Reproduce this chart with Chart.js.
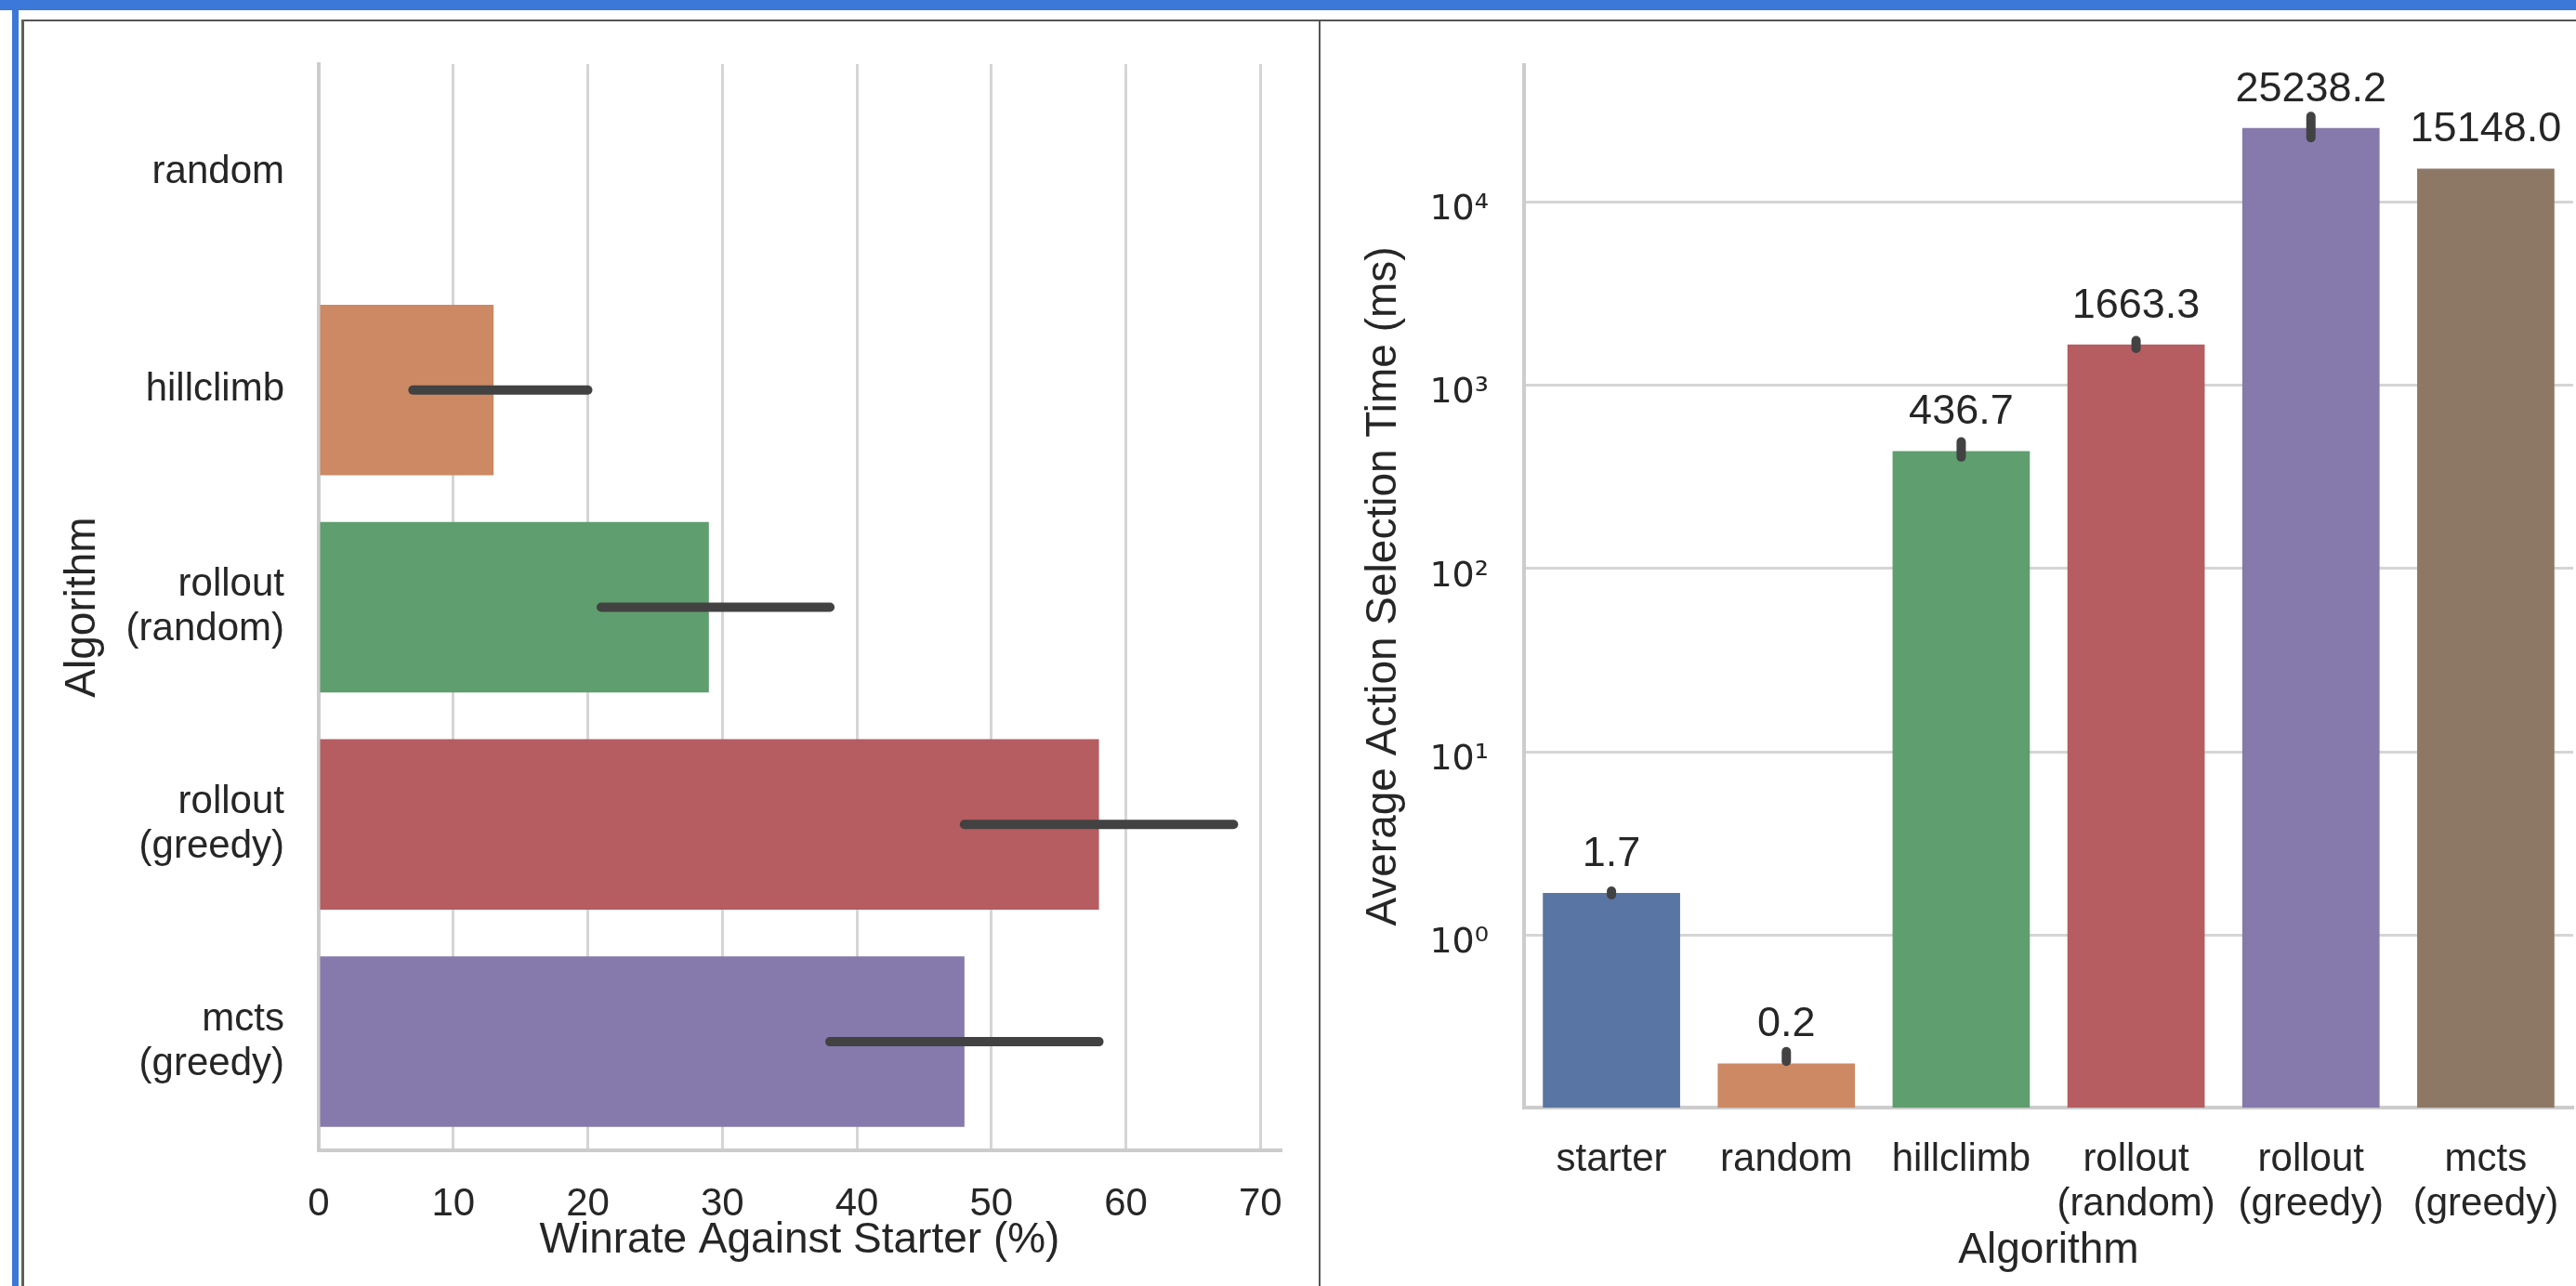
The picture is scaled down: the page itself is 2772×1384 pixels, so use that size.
<!DOCTYPE html>
<html>
<head>
<meta charset="utf-8">
<script src="https://cdn.jsdelivr.net/npm/chart.js@4.4.1/dist/chart.umd.min.js"></script>
<style>
  html, body { margin: 0; padding: 0; background: #fff; }
  body { width: 2772px; height: 1384px; position: relative; overflow: hidden; }
  .band { position: absolute; background: #3c78d8; }
  .rule { position: absolute; background: #555; }
  canvas { position: absolute; }
  #winrate { left: 26px; top: 24px; }
  #timing { left: 1422px; top: 24px; }
</style>
</head>
<body>
<div class="band" style="left:0;top:0;width:2772px;height:11px;"></div>
<div class="band" style="left:13px;top:0;width:7px;height:1384px;"></div>
<div class="rule" style="left:23px;top:21px;width:2749px;height:2px;"></div>
<div class="rule" style="left:23px;top:21px;width:3px;height:1363px;background:#5e5e5e;"></div>
<div class="rule" style="left:1419px;top:21px;width:2px;height:1363px;"></div>

<canvas id="winrate" width="1393" height="1360"></canvas>
<canvas id="timing" width="1350" height="1360"></canvas>

<script>
// Winrate of each algorithm against the starter agent (%), with 95% CI
const winrateCategories = ['random', 'hillclimb', ['rollout', '(random)'], ['rollout', '(greedy)'], ['mcts', '(greedy)']];
const winrateValues = [0, 13, 29, 58, 48];
const winrateLow = [null, 7, 21, 48, 38];
const winrateHigh = [null, 20, 38, 68, 58];
const winrateTicks = [0, 10, 20, 30, 40, 50, 60, 70];

// Average action selection time per algorithm (ms), with 95% CI
const timeCategories = ['starter', 'random', 'hillclimb', ['rollout', '(random)'], ['rollout', '(greedy)'], ['mcts', '(greedy)']];
const timeValues = [1.7, 0.2, 436.7, 1663.3, 25238.2, 15148.0];
const timeLow = [1.66, 0.205, 405, 1585, 22300, null];
const timeHigh = [1.74, 0.232, 490, 1750, 29200, null];
const timeTicks = [1, 10, 100, 1000, 10000];
const timeTickLabels = ['10⁰', '10¹', '10²', '10³', '10⁴'];

const palette = ['#5975a4', '#cc8963', '#5f9e6e', '#b55d60', '#857aab', '#8d7866'];

const SANS = "'Liberation Sans', Arial, sans-serif";
const TEXT = '#262626';
Chart.defaults.font.family = SANS;
Chart.defaults.color = TEXT;

// Fixed axis box size; the plot area edges come from the layout padding only
function fixedBox(size) {
  return s => {
    if (s.isHorizontal()) s.height = size; else s.width = size;
    s.paddingTop = 0; s.paddingBottom = 0; s.paddingLeft = 0; s.paddingRight = 0;
  };
}

// Confidence-interval whiskers drawn on top of the bars
function makeErrorBars(low, high) {
  return {
    id: 'errorBars',
    afterDatasetsDraw(chart) {
      const ctx = chart.ctx;
      const meta = chart.getDatasetMeta(0);
      const horizontal = chart.options.indexAxis === 'y';
      const vScale = horizontal ? chart.scales.x : chart.scales.y;
      ctx.save();
      ctx.strokeStyle = '#424242';
      ctx.lineWidth = 10;
      ctx.lineCap = 'round';
      low.forEach((lo, i) => {
        const hi = high[i];
        if (lo == null || hi == null) return;
        const bar = meta.data[i];
        const a = vScale.getPixelForValue(lo);
        const b = vScale.getPixelForValue(hi);
        ctx.beginPath();
        if (horizontal) { ctx.moveTo(a, bar.y); ctx.lineTo(b, bar.y); }
        else { ctx.moveTo(bar.x, a); ctx.lineTo(bar.x, b); }
        ctx.stroke();
      });
      ctx.restore();
    }
  };
}

// Numeric value printed above each timing bar
const valueLabels = {
  id: 'valueLabels',
  afterDatasetsDraw(chart) {
    const ctx = chart.ctx;
    const meta = chart.getDatasetMeta(0);
    const y = chart.scales.y;
    ctx.save();
    ctx.font = '45px ' + SANS;
    ctx.fillStyle = TEXT;
    ctx.textAlign = 'center';
    ctx.textBaseline = 'alphabetic';
    timeValues.forEach((v, i) => {
      const bar = meta.data[i];
      ctx.fillText(v.toFixed(1), bar.x, y.getPixelForValue(v) - 29);
    });
    ctx.restore();
  }
};

const tickFont = { size: 42, lineHeight: 1.15 };
const titleFont = { size: 46, lineHeight: 1.2 };
const spine = { display: true, color: '#cccccc', width: 4 };

new Chart(document.getElementById('winrate'), {
  type: 'bar',
  data: {
    labels: winrateCategories,
    datasets: [{
      data: winrateValues,
      backgroundColor: palette.slice(0, winrateValues.length),
      borderWidth: 0,
      barPercentage: 0.785,
      categoryPercentage: 1
    }]
  },
  options: {
    indexAxis: 'y',
    responsive: false,
    animation: false,
    devicePixelRatio: 1,
    layout: { padding: { left: 0, top: 45, right: 41, bottom: 0 } },
    plugins: { legend: { display: false }, tooltip: { enabled: false } },
    scales: {
      x: {
        type: 'linear',
        min: 0,
        max: 71.5,
        afterFit: fixedBox(146),
        afterBuildTicks: s => { s.ticks = winrateTicks.map(v => ({ value: v })); },
        ticks: { padding: 34, font: tickFont, color: TEXT, maxRotation: 0, minRotation: 0, autoSkip: false, includeBounds: false, callback: v => String(v) },
        grid: { color: '#d5d5d5', lineWidth: 3, drawTicks: false },
        border: spine,
        title: { display: true, text: 'Winrate Against Starter (%)', font: titleFont, color: TEXT, padding: { top: 0, bottom: 21 } }
      },
      y: {
        type: 'category',
        afterFit: fixedBox(317),
        ticks: { padding: 37, font: tickFont, color: TEXT, autoSkip: false },
        grid: { display: false, drawTicks: false },
        border: spine,
        title: { display: true, text: 'Algorithm', font: titleFont, color: TEXT, padding: { top: 36, bottom: 0 } }
      }
    }
  },
  plugins: [makeErrorBars(winrateLow, winrateHigh)]
});

new Chart(document.getElementById('timing'), {
  type: 'bar',
  data: {
    labels: timeCategories,
    datasets: [{
      data: timeValues,
      backgroundColor: palette.slice(0, timeValues.length),
      borderWidth: 0,
      barPercentage: 0.785,
      categoryPercentage: 1
    }]
  },
  options: {
    responsive: false,
    animation: false,
    devicePixelRatio: 1,
    layout: { padding: { left: 0, top: 46, right: 3, bottom: 0 } },
    plugins: { legend: { display: false }, tooltip: { enabled: false } },
    scales: {
      x: {
        type: 'category',
        afterFit: fixedBox(192),
        ticks: { padding: 32, font: tickFont, color: TEXT, maxRotation: 0, minRotation: 0, autoSkip: false },
        grid: { display: false, drawTicks: false },
        border: spine,
        title: { display: true, text: 'Algorithm', font: titleFont, color: TEXT, padding: { top: 0, bottom: 10 } }
      },
      y: {
        type: 'logarithmic',
        min: 0.1148,
        max: 55600,
        afterFit: fixedBox(218),
        afterBuildTicks: s => { s.ticks = timeTicks.map(v => ({ value: v, major: true })); },
        ticks: {
          padding: 38,
          labelOffset: 9,
          font: { family: "'DejaVu Sans', sans-serif", size: 38 },
          color: TEXT,
          autoSkip: false,
          callback: (v, i) => timeTickLabels[i]
        },
        grid: { color: '#d5d5d5', lineWidth: 3, drawTicks: false },
        border: spine,
        title: { display: true, text: 'Average Action Selection Time (ms)', font: titleFont, color: TEXT, padding: { top: 40, bottom: 0 } }
      }
    }
  },
  plugins: [makeErrorBars(timeLow, timeHigh), valueLabels]
});
</script>
</body>
</html>
